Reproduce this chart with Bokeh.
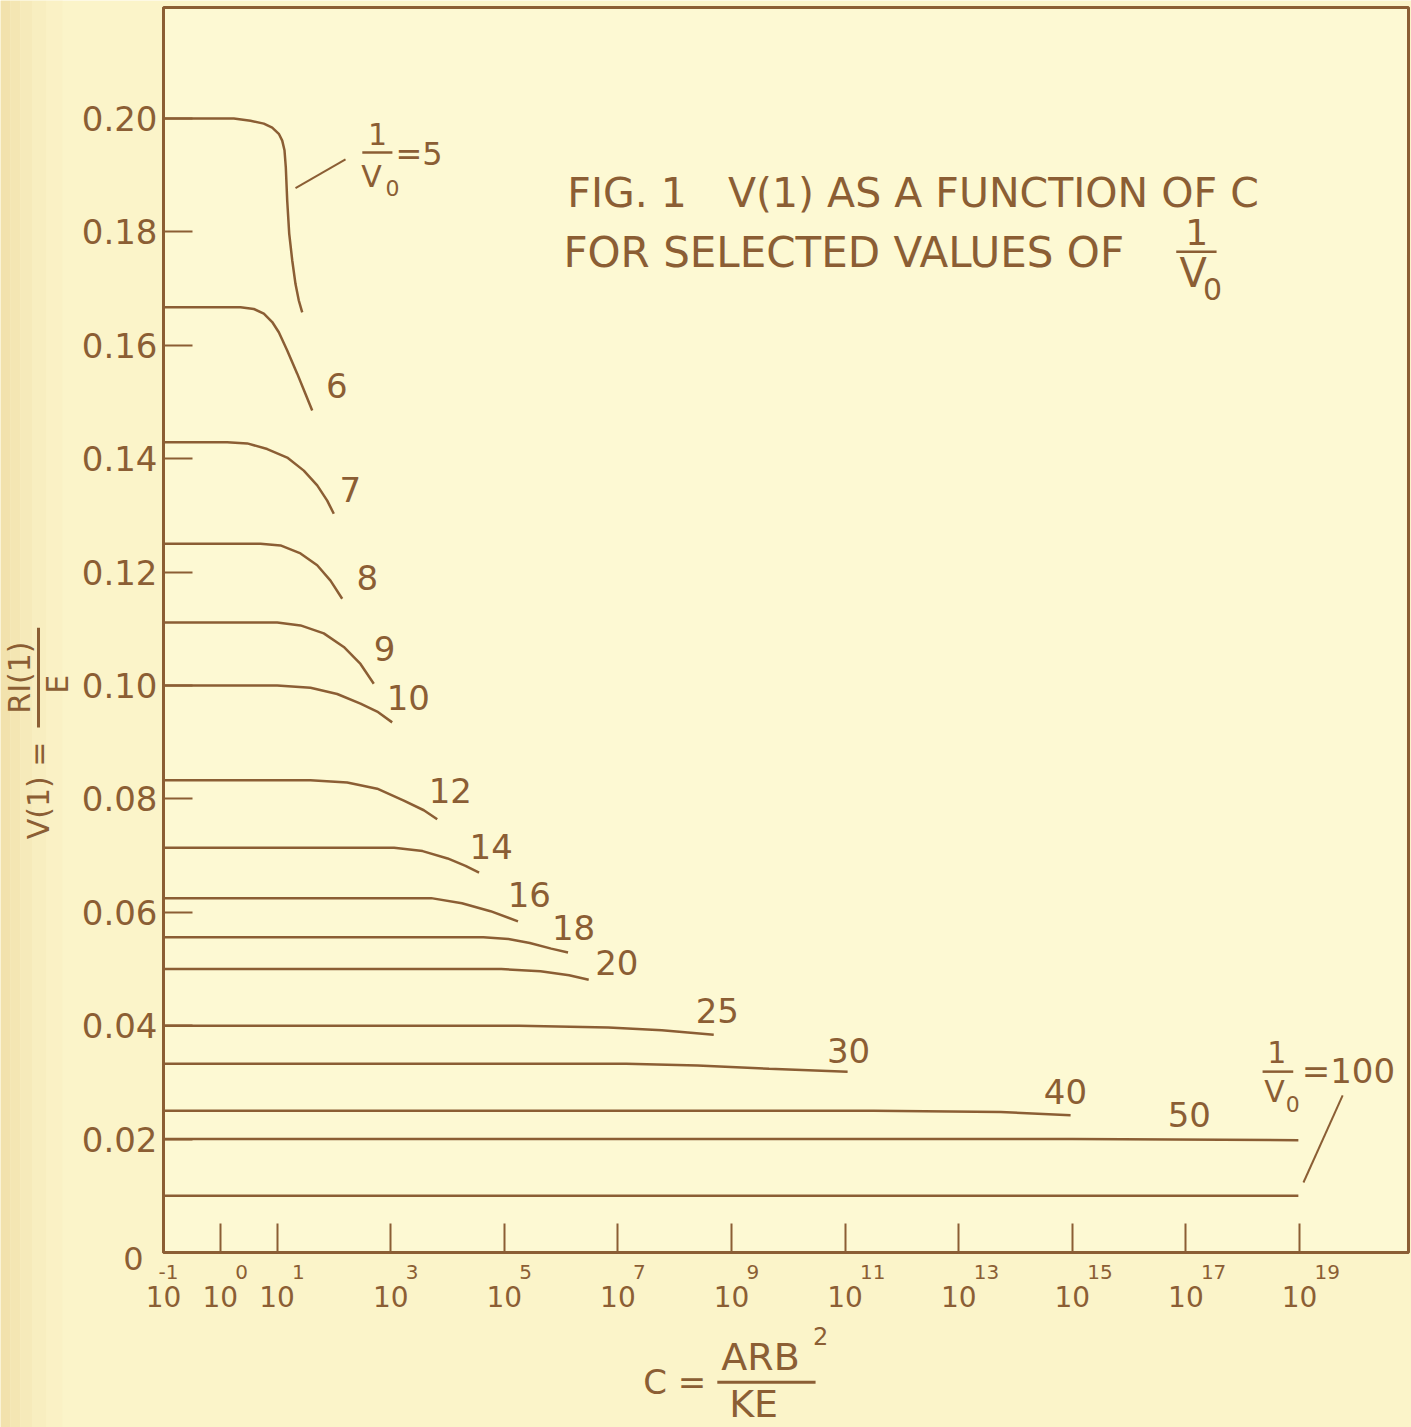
import numpy as np
from bokeh.plotting import figure
from bokeh.models import (FixedTicker, PrintfTickFormatter, CustomJSTickFormatter, Label,
                          Arrow, BoxAnnotation)
from bokeh.embed import file_html
from bokeh.resources import INLINE

# ---------------- data: log10(C) and V(1) ----------------
inv_v0 = [5, 6, 7, 8, 9, 10, 12, 14, 16, 18, 20, 25, 30, 40, 50, 100]

logc_5 = [-1, 0.238, 0.532, 0.766, 0.914, 1.030, 1.090, 1.130, 1.153, 1.178, 1.213, 1.266, 1.324, 1.382, 1.442]
v_5 = [0.2000, 0.2000, 0.1996, 0.1991, 0.1984, 0.1973, 0.1961, 0.1944, 0.1914, 0.1855, 0.1797, 0.1750, 0.1708, 0.1679, 0.1658]

logc_6 = [-1, 0.121, 0.356, 0.590, 0.766, 0.914, 1.030, 1.178, 1.354, 1.500, 1.618]
v_6 = [0.1667, 0.1667, 0.1667, 0.1664, 0.1656, 0.1641, 0.1623, 0.1591, 0.1550, 0.1514, 0.1485]

logc_7 = [-1, 0.121, 0.474, 0.826, 1.178, 1.470, 1.706, 1.882, 1.998]
v_7 = [0.1429, 0.1429, 0.1427, 0.1417, 0.1402, 0.1379, 0.1353, 0.1326, 0.1303]

logc_8 = [-1, 0.708, 1.060, 1.412, 1.706, 1.940, 2.146]
v_8 = [0.1250, 0.1250, 0.1247, 0.1233, 0.1212, 0.1185, 0.1153]

logc_9 = [-1, 1.002, 1.412, 1.822, 2.174, 2.468, 2.702]
v_9 = [0.1111, 0.1111, 0.1106, 0.1092, 0.1068, 0.1038, 0.1003]

logc_10 = [-1, 1.002, 1.588, 2.058, 2.468, 2.762, 3.026]
v_10 = [0.1000, 0.1000, 0.0996, 0.0985, 0.0968, 0.0954, 0.0935]

logc_12 = [-1, 1.588, 2.234, 2.762, 3.231, 3.583, 3.819]
v_12 = [0.0833, 0.0833, 0.0829, 0.0818, 0.0797, 0.0780, 0.0764]

logc_14 = [-1, 3.060, 3.562, 4.002, 4.317, 4.556]
v_14 = [0.0714, 0.0714, 0.0708, 0.0695, 0.0682, 0.0670]

logc_16 = [-1, 3.713, 4.254, 4.757, 5.241]
v_16 = [0.0625, 0.0625, 0.0616, 0.0602, 0.0584]

logc_18 = [-1, 4.632, 5.072, 5.449, 5.826, 6.122]
v_18 = [0.0556, 0.0556, 0.0553, 0.0546, 0.0536, 0.0529]

logc_20 = [-1, 4.946, 5.637, 6.141, 6.486]
v_20 = [0.0500, 0.0500, 0.0496, 0.0489, 0.0481]

logc_25 = [-1, 5.260, 6.833, 7.775, 8.687]
v_25 = [0.0400, 0.0400, 0.0397, 0.0392, 0.0384]

logc_30 = [-1, 7.146, 8.403, 9.662, 11.044]
v_30 = [0.0333, 0.0333, 0.0330, 0.0324, 0.0319]

logc_40 = [-1, 11.5, 13.74, 14.97]
v_40 = [0.0250, 0.0250, 0.0248, 0.0242]

logc_50 = [-1, 15.0, 18.98]
v_50 = [0.0200, 0.0200, 0.0198]

logc_100 = [-1, 18.98]
v_100 = [0.0100, 0.0100]

x_tick_exp = [-1, 0, 1, 3, 5, 7, 9, 11, 13, 15, 17, 19]
y_ticks = [0.02, 0.04, 0.06, 0.08, 0.10, 0.12, 0.14, 0.16, 0.18, 0.20]

curve_label_text = ["6", "7", "8", "9", "10", "12", "14", "16", "18", "20", "25", "30", "40", "50"]
curve_label_logc = [2.05, 2.29, 2.59, 2.89, 3.31, 4.05, 4.77, 5.44, 6.22, 6.98, 8.75, 11.06, 14.88, 17.06]
curve_label_v = [0.1529, 0.1346, 0.1190, 0.1065, 0.0979, 0.0815, 0.0716, 0.0631, 0.0573, 0.0511, 0.0427, 0.0356, 0.0284, 0.0243]

curves = [(logc_5, v_5), (logc_6, v_6), (logc_7, v_7), (logc_8, v_8), (logc_9, v_9),
          (logc_10, v_10), (logc_12, v_12), (logc_14, v_14), (logc_16, v_16),
          (logc_18, v_18), (logc_20, v_20), (logc_25, v_25), (logc_30, v_30),
          (logc_40, v_40), (logc_50, v_50), (logc_100, v_100)]

# ---------------- styling ----------------
BROWN = "#8b5e34"
BG = "#fbf4c9"
BOX_BG = "#fdf9d3"
FONT = "DejaVu Sans"
DEC = 56.8          # pixels per decade on the C axis
PPU = 5670.0        # pixels per unit of V
C_MAX = 20.919      # log10 of the right edge of the drawn box
V_MAX = 0.21958     # top edge of the drawn box

def X(lc):
    return 10.0 ** lc

# the frame spans the whole canvas; the drawn box starts at C = 0.1, V = 0
p = figure(width=1411, height=1427, x_axis_type="log",
           x_range=(X(-3.870), X(20.972)), y_range=(-0.03086, 0.22081),
           output_backend="svg", toolbar_location=None,
           min_border=0, min_border_left=0, min_border_right=0, min_border_top=0, min_border_bottom=0,
           background_fill_color=BG, border_fill_color=BG)
p.grid.visible = False
p.outline_line_color = None

# paper tint towards the left edge
tint_edges = [-3.870, -3.694, -3.518, -3.306, -3.060, -2.778]
tint_cols = ["#f2e2ad", "#f4e6b3", "#f6eaba", "#f8eec0", "#faf1c5"]
for lc0, lc1, col in zip(tint_edges[:-1], tint_edges[1:], tint_cols):
    p.add_layout(BoxAnnotation(left=X(lc0), right=X(lc1), fill_color=col, fill_alpha=1.0,
                               line_color=None, level="underlay"))

# plot box
p.add_layout(BoxAnnotation(left=0.1, right=X(C_MAX), bottom=0.0, top=V_MAX,
                           fill_color=BOX_BG, fill_alpha=1.0, line_color=BROWN, line_alpha=1.0,
                           line_width=3, level="underlay"))

p.xaxis.fixed_location = 0.0
p.yaxis.fixed_location = 0.1
p.xaxis.bounds = (0.1, X(C_MAX))
p.yaxis.bounds = (0.0, V_MAX)
for ax in (p.xaxis, p.yaxis):
    ax.axis_line_color = BROWN
    ax.axis_line_width = 3
    ax.major_tick_in = 29
    ax.major_tick_out = 0
    ax.major_tick_line_color = BROWN
    ax.major_tick_line_width = 2
    ax.minor_tick_line_color = None
    ax.major_label_text_color = BROWN
    ax.major_label_text_font = FONT

p.xaxis.ticker = FixedTicker(ticks=[X(k) for k in x_tick_exp])
p.xaxis.formatter = CustomJSTickFormatter(code="return '10';")
p.xaxis.major_label_standoff = 33
p.xaxis.major_label_text_font_size = "28px"

p.yaxis.ticker = FixedTicker(ticks=y_ticks)
p.yaxis.formatter = PrintfTickFormatter(format="%.2f")
p.yaxis.major_label_standoff = 6
p.yaxis.major_label_text_font_size = "34px"

for lc, v in curves:
    p.line([X(a) for a in lc], v, line_color=BROWN, line_width=2.5)

def lab(lc, v, text, size, align="center", angle=0.0):
    p.add_layout(Label(x=X(lc), y=v, text=text, text_font=FONT, text_font_size=f"{size}px",
                       text_color=BROWN, text_align=align, text_baseline="middle", angle=angle))

def bar(lc0, v0, lc1, v1, w=2.5):
    p.add_layout(Arrow(x_start=X(lc0), y_start=v0, x_end=X(lc1), y_end=v1, end=None,
                       line_color=BROWN, line_width=w))

# curve labels
for t, lc, v in zip(curve_label_text, curve_label_logc, curve_label_v):
    lab(lc, v, t, 34)

# 1/V0 = 5
lab(2.77, 0.1972, "1", 30)
bar(2.50, 0.1940, 3.03, 0.1940)
lab(2.66, 0.1898, "V", 30)
lab(3.03, 0.1878, "0", 22)
lab(3.50, 0.1937, "=5", 32)
bar(1.324, 0.1877, 2.204, 0.1928, 2)

# 1/V0 = 100
lab(18.60, 0.0354, "1", 30)
bar(18.35, 0.0319, 18.89, 0.0319)
lab(18.56, 0.0284, "V", 30)
lab(18.88, 0.0262, "0", 22)
lab(19.86, 0.0321, "=100", 34)
bar(19.07, 0.01235, 19.76, 0.0277, 2)

# title
lab(6.11, 0.1869, "FIG. 1\u2003V(1) AS A FUNCTION OF C", 41, align="left")
lab(6.04, 0.1764, "FOR SELECTED VALUES OF", 42, align="left")
lab(17.19, 0.1799, "1", 36)
bar(16.83, 0.1765, 17.54, 0.1765)
lab(17.13, 0.1727, "V", 40)
lab(17.47, 0.1700, "0", 30)

# zero label and tick exponents
lab(-1 - 30 / DEC, -6 / PPU, "0", 32)
for k in x_tick_exp:
    off = 15 / DEC if k >= 0 else -5 / DEC
    lab(k + off, -19 / PPU, str(k), 20, align="left")

# x-axis title: C = ARB^2 / KE
lab(8.00, -0.0229, "C =", 34)
lab(9.51, -0.0185, "ARB", 38)
lab(10.57, -0.0148, "2", 24)
bar(8.75, -0.0229, 10.48, -0.0229, 3)
lab(9.39, -0.0268, "KE", 38)

# y-axis title: V(1) = RI(1) / E (rotated)
lab(-3.201, 0.0815, "V(1) =", 30, angle=np.pi / 2)
bar(-3.201, 0.1102, -3.201, 0.0926, 3)
lab(-2.866, 0.1002, "E", 30, angle=np.pi / 2)
lab(-3.535, 0.1014, "RI(1)", 30, angle=np.pi / 2)

open("out.html", "w").write(file_html(p, INLINE))
